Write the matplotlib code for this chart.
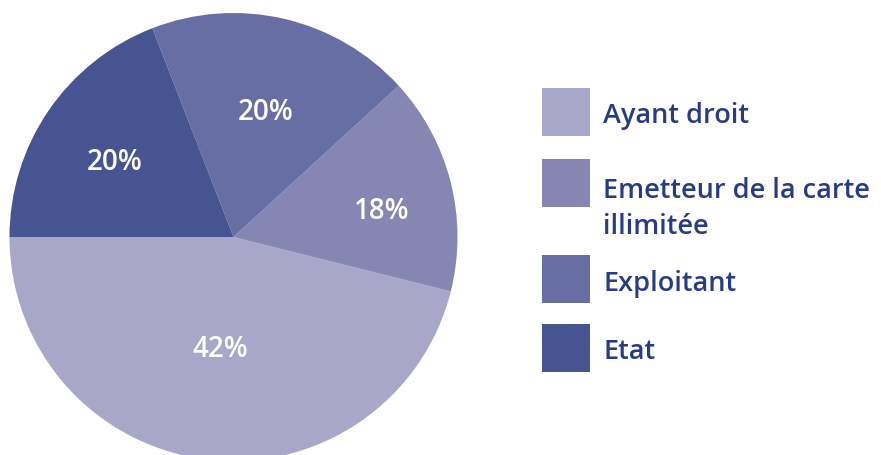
import numpy as np
import matplotlib
matplotlib.use('Agg')
import matplotlib.pyplot as plt
from matplotlib.patches import Rectangle

# Data (slice sizes, printed labels kept as shown)
categories = ['Ayant droit', 'Emetteur de la carte\nillimitée', 'Exploitant', 'Etat']
values = [46.1, 15.7, 19.1, 19.1]
pct_labels = ['42%', '18%', '20%', '20%']
colors = ['#A8A7C9', '#8686B3', '#676EA3', '#465592']
text_color = '#263C87'

plt.rcParams['font.family'] = ['Open Sans', 'DejaVu Sans']

W, H = 881, 456
fig = plt.figure(figsize=(W / 100, H / 100), dpi=100)

# pie axes placed in pixels: center (233.5, 238), radius 224
cx, cy, r = 233.5, 238, 224
ax = fig.add_axes([(cx - r) / W, (H - cy - r) / H, 2 * r / W, 2 * r / H])
wedges, _ = ax.pie(values, colors=colors, startangle=180, counterclock=True,
                   wedgeprops=dict(linewidth=0))
ax.set_xlim(-1, 1)
ax.set_ylim(-1, 1)
ax.set_aspect('equal')
ax.axis('off')

# percentage labels: (distance from centre, angle in degrees)
label_pos = [(0.50, 263), (0.67, 10), (0.58, 75.6), (0.63, 147.6)]
for lab, (d, a) in zip(pct_labels, label_pos):
    ang = np.deg2rad(a)
    ax.text(d * np.cos(ang), d * np.sin(ang), lab, ha='center', va='center',
            color='white', fontsize=20, fontweight='semibold')

# legend drawn by hand in pixel coordinates
lg = fig.add_axes([0, 0, 1, 1])
lg.set_xlim(0, W)
lg.set_ylim(H, 0)
lg.axis('off')
box_tops = [89, 160, 256, 325]
text_y = [116, 209, 284, 352]
for col, name, top, ty in zip(colors, categories, box_tops, text_y):
    lg.add_patch(Rectangle((542, top), 48, 48, color=col, linewidth=0))
    lg.text(603, ty, name, ha='left', va='center', color=text_color,
            fontsize=19.5, fontweight='semibold', linespacing=1.35)

fig.savefig('out.png', dpi=100)
